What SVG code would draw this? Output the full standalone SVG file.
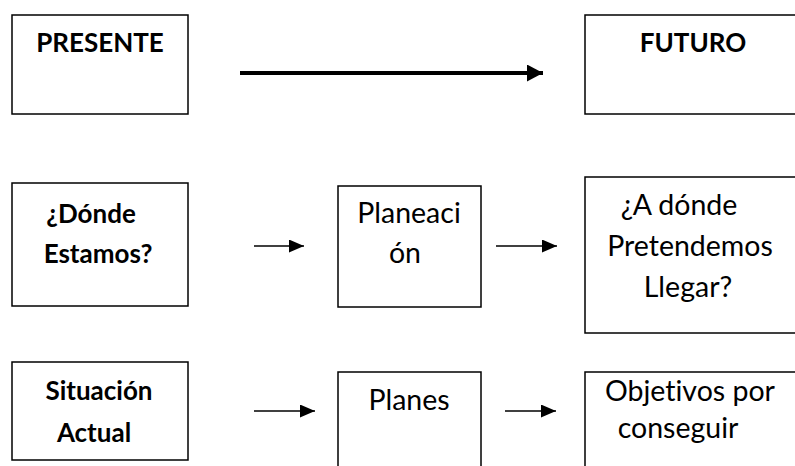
<svg xmlns="http://www.w3.org/2000/svg" width="795" height="466" viewBox="0 0 795 466">
<style>
.box{fill:#fff;stroke:#000;stroke-width:1.5}
text{font-variant-ligatures:none;font-feature-settings:"liga" 0}
.b{font-family:Lato,"Liberation Sans",Arial,sans-serif;font-weight:bold;font-size:26px;fill:#000;text-anchor:middle}
.r{font-family:Lato,"Liberation Sans",Arial,sans-serif;font-size:28.5px;fill:#000;text-anchor:middle}
.ln{stroke:#000;stroke-width:1.7;fill:none}
.big{stroke:#000;stroke-width:4;fill:none}
</style>
<defs>
<marker id="ah" markerUnits="userSpaceOnUse" markerWidth="17" markerHeight="14" refX="15" refY="6.5" orient="auto">
<path d="M0,0 L15,6.5 L0,13 Z" fill="#000"/>
</marker>
<marker id="ahBig" markerUnits="userSpaceOnUse" markerWidth="18" markerHeight="18" refX="16" refY="8.5" orient="auto">
<path d="M0,0 L16,8.5 L0,17 Z" fill="#000"/>
</marker>
</defs>
<rect width="795" height="466" fill="#fff"/>
<g id="presente"><rect class="box" x="12" y="15" width="176" height="99"/><text class="b" x="100" y="52">PRESENTE</text></g>
<g id="futuro"><rect class="box" x="585" y="15" width="220" height="99"/><text class="b" x="693" y="52">FUTURO</text></g>
<g id="donde"><rect class="box" x="12" y="183" width="176" height="123"/><text class="b" x="91" y="223">¿Dónde</text><text class="b" x="98" y="263">Estamos?</text></g>
<g id="planeacion"><rect class="box" x="338" y="186" width="143" height="121"/><text class="r" x="409" y="223">Planeaci</text><text class="r" x="405" y="263">ón</text></g>
<g id="adonde"><rect class="box" x="585" y="177" width="220" height="156"/><text class="r" x="679" y="215">¿A dónde</text><text class="r" x="690" y="256">Pretendemos</text><text class="r" x="688" y="297">Llegar?</text></g>
<g id="situacion"><rect class="box" x="12" y="362" width="176" height="98"/><text class="b" x="99" y="400">Situación</text><text class="b" x="94" y="442">Actual</text></g>
<g id="planes"><rect class="box" x="338" y="372" width="143" height="110"/><text class="r" x="409" y="410">Planes</text></g>
<g id="objetivos"><rect class="box" x="585" y="372" width="220" height="110"/><text class="r" x="690" y="401">Objetivos por</text><text class="r" x="678" y="438">conseguir</text></g>
<g id="connectors">
<line class="big" x1="240" y1="73" x2="543" y2="73" marker-end="url(#ahBig)"/>
<line class="ln" x1="254" y1="246" x2="304" y2="246" marker-end="url(#ah)"/>
<line class="ln" x1="496" y1="246" x2="557" y2="246" marker-end="url(#ah)"/>
<line class="ln" x1="254" y1="411" x2="315" y2="411" marker-end="url(#ah)"/>
<line class="ln" x1="505" y1="411" x2="556" y2="411" marker-end="url(#ah)"/>
</g>
</svg>
